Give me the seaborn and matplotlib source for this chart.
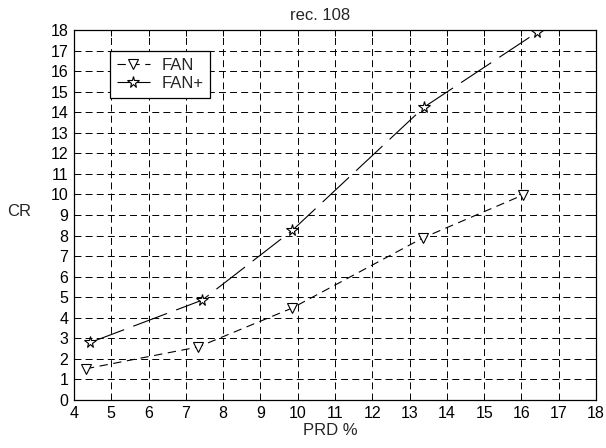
import matplotlib
matplotlib.use("Agg")
import matplotlib.pyplot as plt
import seaborn as sns
import pandas as pd

fan_x = [4.32, 7.33, 9.86, 13.35, 16.05]
fan_y = [1.52, 2.58, 4.48, 7.88, 9.98]
fanp_x = [4.44, 7.44, 9.86, 13.39, 16.43]
fanp_y = [2.80, 4.86, 8.26, 14.25, 17.90]
x_ticks = list(range(4, 19))
y_ticks = list(range(0, 19))

sns.set_style("white")
plt.rcParams['font.family'] = ['Liberation Sans', 'DejaVu Sans']
plt.rcParams['lines.scale_dashes'] = False

FS = 11.5
LFS = 12

W, H = 606, 448
L, R, T, B = 74, 596, 30, 400
fig = plt.figure(figsize=(W/100, H/100), dpi=100)
ax = fig.add_axes([L/W, (H-B)/H, (R-L)/W, (B-T)/H])

df1 = pd.DataFrame({"x": fan_x, "y": fan_y})
df2 = pd.DataFrame({"x": fanp_x, "y": fanp_y})

sns.lineplot(data=df1, x="x", y="y", ax=ax, color="black", lw=0.8,
             marker="v", markersize=7.5, markerfacecolor="white",
             markeredgecolor="black", markeredgewidth=0.8,
             linestyle=(0, (6, 4)), label="FAN", sort=False)
sns.lineplot(data=df2, x="x", y="y", ax=ax, color="black", lw=0.8,
             marker="*", markersize=8.5, markerfacecolor="white",
             markeredgecolor="black", markeredgewidth=0.8,
             linestyle=(0, (26, 7)), label="FAN+", sort=False)

ax.set_xlim(4, 18)
ax.set_ylim(0, 18)
ax.set_xticks(x_ticks)
ax.set_yticks(y_ticks)
ax.grid(True, color="black", linestyle=(0, (5, 3)), linewidth=0.7)
ax.tick_params(direction="in", length=4, width=0.7, labelsize=FS, pad=4,
               top=True, right=True, colors="black")
for s in ax.spines.values():
    s.set_visible(True)
    s.set_color("black")
    s.set_linewidth(0.9)

pw, ph = R - L, B - T
ax.set_title("rec. 108", fontsize=LFS, x=(320-L)/pw, y=(B-15)/ph,
             va="center", pad=0)
ax.set_xlabel("PRD %", fontsize=LFS, va="center")
ax.xaxis.set_label_coords((330-L)/pw, (B-430)/ph)
ax.set_ylabel("CR", fontsize=LFS, rotation=0, va="center", ha="center")
ax.yaxis.set_label_coords((19-L)/pw, (B-211)/ph)

leg = ax.legend(loc="upper left", bbox_to_anchor=((110-L)/pw, (B-51)/ph),
                borderaxespad=0, frameon=True, fancybox=False, fontsize=LFS,
                handlelength=2.0, handletextpad=0.7, borderpad=0.4,
                labelspacing=0.2)
leg.get_frame().set_edgecolor("black")
leg.get_frame().set_linewidth(0.9)
leg.get_frame().set_alpha(1)

fig.savefig("out.png", dpi=100)
